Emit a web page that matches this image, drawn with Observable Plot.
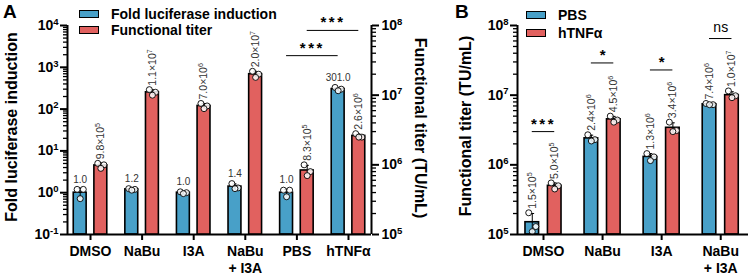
<!DOCTYPE html>
<html><head><meta charset="utf-8">
<script src="https://cdn.jsdelivr.net/npm/d3@7"></script>
<script src="https://cdn.jsdelivr.net/npm/@observablehq/plot@0.6"></script>
<style>
body{margin:0;background:#fff;}
#root{position:relative;width:748px;height:276px;font-family:"Liberation Sans",Arial,sans-serif;overflow:hidden;}
#root svg{position:absolute;top:0;overflow:visible;}
.abs{position:absolute;font-weight:bold;color:#000;white-space:nowrap;}
.row{display:flex;align-items:center;height:16px;font-size:14px;}
.sw{display:inline-block;width:20px;height:8px;border:1.5px solid #000;box-sizing:border-box;margin-right:12px;}
</style></head><body><div id="root"></div>
<script>
// ---------- Panel A data ----------
const categoriesA = ["DMSO", "NaBu", "I3A", "NaBu\n+ I3A", "PBS", "hTNFα"];
const foldMeanA = [1.0, 1.2, 1.0, 1.4, 1.0, 301.0];
const foldRepsA = [[1.2, 1.2, 0.72], [1.25, 1.2, 1.15], [1.05, 1.0, 0.95], [1.65, 1.3, 1.25], [1.15, 1.15, 0.8], [330, 300, 275]];
const titerMeanA = [9.8e5, 1.1e7, 7.0e6, 2.0e7, 8.3e5, 2.6e6];
const titerRepsA = [[1.05e6, 1.0e6, 8.9e5], [1.2e7, 1.1e7, 1.0e7], [7.6e6, 7.0e6, 6.4e6], [2.2e7, 2.0e7, 1.8e7], [1.0e6, 8.0e5, 7.0e5], [2.8e6, 2.5e6, 2.5e6]];
const seriesA = ["Fold luciferase induction", "Functional titer"];
// significance (A)
const sigLabelA = ["***", "***"];
const sigFromA = [4, 4];
const sigToA = [5, 5];
const sigSeriesA = ["fold", "titer"];
const sigLevelA = [1900, 8.5e7];

// ---------- Panel B data ----------
const categoriesB = ["DMSO", "NaBu", "I3A", "NaBu\n+ I3A"];
const seriesB = ["PBS", "hTNFα"];
const pbsMeanB = [1.5e5, 2.4e6, 1.3e6, 7.4e6];
const pbsRepsB = [[2.05e5, 1.3e5, 1.1e5], [2.7e6, 2.3e6, 2.2e6], [1.45e6, 1.3e6, 1.15e6], [7.6e6, 7.3e6, 7.3e6]];
const tnfMeanB = [5.0e5, 4.5e6, 3.4e6, 1.0e7];
const tnfRepsB = [[5.5e5, 5.0e5, 4.5e5], [5.0e6, 4.4e6, 4.1e6], [4.1e6, 3.1e6, 3.0e6], [1.15e7, 9.8e6, 9.2e6]];
const sigLabelB = ["***", "*", "*", "ns"];
const sigLevelB = [3.0e6, 2.9e7, 2.3e7, 6.5e7];

// ---------- styling ----------
const blue = "#48a0c8";
const red = "#e1615f";
const font = `"Liberation Sans", Arial, sans-serif`;
const supMap = {"-": "⁻", "0": "⁰", "1": "¹", "2": "²", "3": "³", "4": "⁴", "5": "⁵", "6": "⁶", "7": "⁷", "8": "⁸", "9": "⁹"};
const supInv = Object.fromEntries(Object.entries(supMap).map(([k, v]) => [v, k]));
const sup = n => String(n).split("").map(c => supMap[c]).join("");
const pow10 = v => "10" + sup(Math.round(Math.log10(v)));
const sci = v => { const e = Math.floor(Math.log10(v) + 1e-9); return (v / 10 ** e).toFixed(1) + "×10" + sup(e); };
const decades = (a, b) => d3.range(a, b + 1).map(k => 10 ** k);
const minors = (a, b) => d3.range(a, b).flatMap(k => d3.range(2, 10).map(m => m * 10 ** k));
const jit = [-0.06, 0.06, 0];

function rows(means, reps, off) {
  return means.map((m, i) => ({i, xc: i + off, mean: m, reps: reps[i], max: d3.max(reps[i]), sd: d3.deviation(reps[i])}));
}
function pts(rs) {
  return rs.flatMap(r => r.reps.map((v, j) => ({x: r.xc + jit[j], y: v})));
}
function barMarks(rs, base, color, hw) {
  return [
    Plot.rectY(rs, {x1: d => d.xc - hw, x2: d => d.xc + hw, y1: base, y2: "mean", fill: color, stroke: "black", strokeWidth: 1.6}),
    Plot.ruleX(rs, {x: "xc", y1: d => Math.max(base * 1.01, d.mean - d.sd), y2: d => d.mean + d.sd, stroke: "black", strokeWidth: 1}),
    Plot.ruleY(rs, {y: d => d.mean + d.sd, x1: d => d.xc - 0.04, x2: d => d.xc + 0.04, stroke: "black", strokeWidth: 1}),
    Plot.dot(pts(rs), {x: "x", y: "y", r: 3, fill: "white", fillOpacity: 0.85, stroke: "black", strokeWidth: 0.9})
  ];
}
function rotLabels(rs) {
  return Plot.text(rs, {x: "xc", y: "max", text: d => sci(d.mean), rotate: -90, textAnchor: "start", lineAnchor: "middle", dy: -4, fontSize: 10.5, fontWeight: "normal", fill: "#333"});
}

const root = document.getElementById("root");
const W_A = 450, H = 276, MT = 25, MB = 42, ML_A = 67, MR_A = 79;
const xDomA = [-0.446, 5.446];
const offA = 0.2, hwA = 0.125;
const foldRows = rows(foldMeanA, foldRepsA, -offA);
const titerRows = rows(titerMeanA, titerRepsA, offA);

const sigA = sigLabelA.map((label, k) => ({label, series: sigSeriesA[k], level: sigLevelA[k],
  x1: sigFromA[k] + (sigSeriesA[k] === "fold" ? -offA : offA), x2: sigToA[k] + (sigSeriesA[k] === "fold" ? -offA : offA)}));

const common = {width: W_A, height: H, marginTop: MT, marginBottom: MB, marginLeft: ML_A, marginRight: MR_A,
  style: {fontFamily: font, fontSize: "14px", fontWeight: "bold", background: "transparent", color: "black", overflow: "visible"}};

const sigMarks = (data) => [
  Plot.ruleY(data, {y: "level", x1: "x1", x2: "x2", stroke: "black", strokeWidth: 1}),
  Plot.text(data.filter(d => d.label !== "ns"), {x: d => (d.x1 + d.x2) / 2, y: "level", text: "label", lineAnchor: "bottom", dy: -3, fontSize: 15, fontWeight: "bold"}),
  Plot.text(data.filter(d => d.label === "ns"), {x: d => (d.x1 + d.x2) / 2, y: "level", text: "label", lineAnchor: "bottom", dy: -7, fontSize: 14, fontWeight: "normal"})
];

const plotA1 = Plot.plot({...common,
  x: {type: "linear", domain: xDomA, label: null},
  y: {type: "log", domain: [0.1, 1e4], label: null},
  marks: [
    ...barMarks(foldRows, 0.1, blue, hwA),
    Plot.text(foldRows, {x: "xc", y: "max", text: d => d.mean.toFixed(1), dy: -10, fontSize: 10, fontWeight: "normal", fill: "#333"}),
    ...sigMarks(sigA.filter(d => d.series === "fold")),
    Plot.axisY({anchor: "left", ticks: decades(-1, 4), tickFormat: pow10, tickSize: 7, tickPadding: 2, strokeWidth: 2, label: null}),
    Plot.axisY({anchor: "left", ticks: minors(-1, 4), tickFormat: () => "", tickSize: 4, strokeWidth: 1.3, label: null}),
    Plot.axisX({ticks: d3.range(categoriesA.length), tickFormat: i => categoriesA[i], tickSize: 6, tickPadding: 4, strokeWidth: 2, lineHeight: 1.2, label: null}),
    Plot.ruleX([xDomA[0]], {strokeWidth: 2}),
    Plot.ruleY([0.1], {strokeWidth: 2}),
    Plot.text([seriesA[0]], {frameAnchor: "left", textAnchor: "middle", lineAnchor: "middle", dx: -56, dy: -3, rotate: -90, fontSize: 16, fontWeight: "bold"})
  ]
});
plotA1.style.left = "0px";
root.appendChild(plotA1);

const plotA2 = Plot.plot({...common,
  x: {type: "linear", domain: xDomA, axis: null},
  y: {type: "log", domain: [1e5, 1e8], label: null},
  marks: [
    ...barMarks(titerRows, 1e5, red, hwA),
    rotLabels(titerRows),
    ...sigMarks(sigA.filter(d => d.series === "titer")),
    Plot.axisY({anchor: "right", ticks: decades(5, 8), tickFormat: pow10, tickSize: 7, tickPadding: 3, strokeWidth: 2, label: null}),
    Plot.axisY({anchor: "right", ticks: minors(5, 8), tickFormat: () => "", tickSize: 4, strokeWidth: 1.3, label: null}),
    Plot.ruleX([xDomA[1]], {strokeWidth: 2}),
    Plot.text(["Functional titer (TU/mL)"], {frameAnchor: "right", textAnchor: "middle", lineAnchor: "middle", dx: 49, dy: -2, rotate: 90, fontSize: 16, fontWeight: "bold"})
  ]
});
plotA2.style.left = "0px";
root.appendChild(plotA2);

// ---------- Panel B ----------
const W_B = 308, ML_B = 77;
const xDomB = [-0.44, 3.47];
const offB = 0.19, hwB = 0.115;
const pbsRows = rows(pbsMeanB, pbsRepsB, -offB);
const tnfRows = rows(tnfMeanB, tnfRepsB, offB);
const sigB = sigLabelB.map((label, k) => ({label, level: sigLevelB[k], x1: k - offB, x2: k + offB}));

const plotB = Plot.plot({...common, width: W_B, marginLeft: ML_B, marginRight: 0,
  x: {type: "linear", domain: xDomB, label: null},
  y: {type: "log", domain: [1e5, 1e8], label: null},
  marks: [
    ...barMarks(pbsRows, 1e5, blue, hwB),
    ...barMarks(tnfRows, 1e5, red, hwB),
    rotLabels(pbsRows),
    rotLabels(tnfRows),
    ...sigMarks(sigB),
    Plot.axisY({anchor: "left", ticks: decades(5, 8), tickFormat: pow10, tickSize: 7, tickPadding: 2, strokeWidth: 2, label: null}),
    Plot.axisY({anchor: "left", ticks: minors(5, 8), tickFormat: () => "", tickSize: 4, strokeWidth: 1.3, label: null}),
    Plot.axisX({ticks: d3.range(categoriesB.length), tickFormat: i => categoriesB[i], tickSize: 6, tickPadding: 4, strokeWidth: 2, lineHeight: 1.2, label: null}),
    Plot.ruleX([xDomB[0]], {strokeWidth: 2}),
    Plot.ruleY([1e5], {strokeWidth: 2}),
    Plot.text(["Functional titer (TU/mL)"], {frameAnchor: "left", textAnchor: "middle", lineAnchor: "middle", dx: -52, dy: -4, rotate: -90, fontSize: 16, fontWeight: "bold"})
  ]
});
plotB.style.left = "440px";
root.appendChild(plotB);

// star spacing
d3.select(root).selectAll("text").filter(function() { return this.textContent === "***"; }).attr("letter-spacing", "2.5px");

// real superscripts: turn trailing unicode superscript digits into a raised tspan
root.querySelectorAll("text").forEach(t => {
  if (t.children.length) return;
  const m = t.textContent.match(/^(.*?)([⁻⁰¹²³⁴⁵⁶⁷⁸⁹]+)$/);
  if (!m) return;
  t.textContent = m[1];
  const ts = document.createElementNS("http://www.w3.org/2000/svg", "tspan");
  ts.setAttribute("font-size", "0.68em");
  ts.setAttribute("dy", "-0.55em");
  ts.textContent = [...m[2]].map(c => supInv[c]).join("");
  t.appendChild(ts);
});

// ---------- panel letters & legends (HTML) ----------
function addDiv(html, left, top, extra = "") {
  const d = document.createElement("div");
  d.className = "abs";
  d.style.cssText += `left:${left}px;top:${top}px;${extra}`;
  d.innerHTML = html;
  root.appendChild(d);
}
addDiv("A", 3, 1, "font-size:19px;");
addDiv("B", 455, 1, "font-size:19px;");
addDiv(`<div class="row"><span class="sw" style="background:${blue}"></span>${seriesA[0]}</div>`, 79, 6);
addDiv(`<div class="row"><span class="sw" style="background:${red}"></span>${seriesA[1]}</div>`, 79, 22);
addDiv(`<div class="row"><span class="sw" style="background:${blue}"></span>${seriesB[0]}</div>`, 526, 7);
addDiv(`<div class="row"><span class="sw" style="background:${red}"></span>${seriesB[1]}</div>`, 526, 25);
</script></body></html>
